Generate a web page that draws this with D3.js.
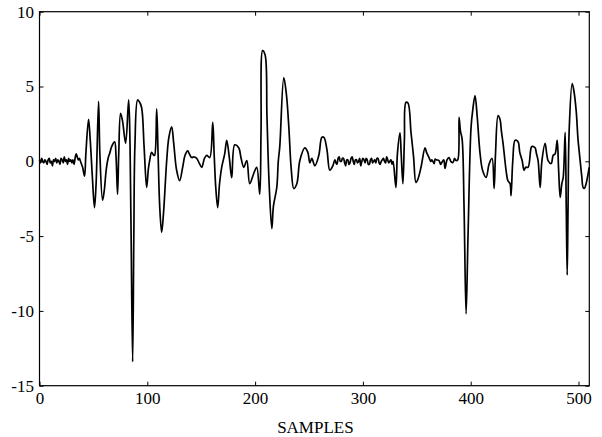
<!DOCTYPE html>
<html>
<head>
<meta charset="utf-8">
<script src="https://cdn.jsdelivr.net/npm/d3@7"></script>
<style>
  body { margin: 0; background: #fff; }
  text { font-family: "Liberation Serif", "DejaVu Serif", serif; }
</style>
</head>
<body>
<div id="chart"></div>
<script>
// sample index and signal value
var samples = [0, 1, 2, 3, 4, 5, 6, 7, 8, 9, 10, 11, 12, 13, 14, 15, 16, 17, 18, 19, 20, 21, 22, 23, 24, 25, 26, 27, 28, 29, 30, 31, 32, 33, 34, 35, 36, 37, 38, 39, 40,
    41.8, 43, 45.5, 47, 49, 51, 52.5, 54.8, 56, 58.5, 60, 62, 64, 65, 67, 69.7, 71, 72.4, 73.5, 75.2, 77, 79.9, 82.7, 84, 85, 86.4, 87.5, 88.5, 91, 92.5, 94.7, 97, 99.4, 101, 102.2, 104, 106, 106.8, 108.7, 110, 111.5, 113.3, 115, 118, 120, 122.6, 124.5, 127.2, 130, 132.8, 135, 137.5, 139, 141.2, 143, 145.8, 148, 150.5, 153, 155.1, 157.9, 160.7, 162, 163.5, 165.3, 167, 169, 171.8, 173.7, 176, 178.3, 181.1, 184.8, 187, 189.5, 192.3, 195, 198.8, 201.5, 204.3, 205.5, 207, 209.3, 211, 213, 215.5, 217, 220.1, 221.5, 222.9, 226.6, 229, 231.3, 233.5, 235.9, 238.7, 241.5, 246.1, 248.9, 250.8, 252.6, 255.4, 259.1, 261.9, 263.8, 266.6, 269.3, 272.1,
    274, 275, 276, 277, 278, 279, 280, 281, 282, 283, 284, 285, 286, 287, 288, 289, 290, 291, 292, 293, 294, 295, 296, 297, 298, 299, 300, 301, 302, 303, 304, 305, 306, 307, 308, 309, 310, 311, 312, 313, 314, 315, 316, 317, 318, 319, 320, 321, 322, 323, 324, 325, 326, 327, 328,
    330.6, 332, 334.4, 335.5, 337.1, 338.5, 339.9, 341.8, 344.6, 347, 349.2, 351, 353.9, 357.6, 359, 361.3, 363, 364, 366, 367, 368, 370.6, 372, 373, 375, 376.2, 378, 379.9, 381.5, 383.6, 385, 386.4, 388, 389.2, 390.5, 392, 393.8, 395.7, 397.5, 400.3, 402, 404, 406, 408.7, 411, 414.3, 417, 419.8, 421.7, 423, 425.4, 427.2, 428.5, 430, 432.8, 434.5, 436.5, 437.4, 439, 441.2, 443.9, 445.5, 447.7, 449.5, 451, 453.2, 456, 457, 459.7, 461, 462.5, 464.4, 466, 469, 470.5, 471.8, 474.6, 476.5, 478.3, 480.2, 481.5, 483, 484.5, 485.8, 487.6, 488.6, 489.5, 490.3, 491.3, 494.1, 495.5, 497.8, 499.5, 501.5, 503, 504.3, 505.5, 507.1, 508.5, 509.9];
var values = [0.1, -0.1, 0.2, 0.0, -0.1, 0.1, 0.0, -0.2, 0.1, 0.2, -0.1, 0.0, -0.3, 0.1, 0.0, 0.2, -0.1, 0.1, 0.0, -0.2, 0.2, 0.1, -0.1, 0.3, 0.0, 0.1, -0.2, 0.2, 0.0, 0.1, -0.1, 0.1, -0.2, 0.2, 0.5, 0.3, 0.1, 0.2, 0.0, -0.2, -0.4,
    -1.0, 0.5, 2.8, 1.5, -1.0, -3.1, -1.5, 4.0, 0.5, -2.6, -2.0, -0.5, 0.3, 0.5, 1.0, 1.3, 0.3, -2.2, 0.5, 3.2, 2.7, 1.2, 4.1, 1.0, -5.0, -13.4, -5.0, 1.0, 4.1, 4.0, 3.6, 1.0, -1.75, -0.5, 0.05, 0.6, 0.4, 0.4, 3.5, 0.5, -3.0, -4.75, -3.5, 0.05, 1.6, 2.3, 1.2, -0.6, -1.3, -0.4, 0.4, 0.7, 0.5, 0.25, 0.3, 0.2, -0.1, -0.4, 0.2, 0.4, 0.25, 2.6, 0.5, -1.75, -3.1, -1.5, -0.4, 0.5, 1.4, 0.3, -1.1, 1.1, 0.9, 0.2, -0.4, 0.05, -1.5, -0.8, -0.4, -2.2, 2.0, 7.4, 7.1, 3.0, -1.5, -4.5, -3.0, -1.75, 0.0, 1.0, 5.6, 4.5, 2.26, -0.5, -1.82, -1.5, 0.05, 0.9, 0.6, -0.1, 0.2, -0.3, 0.4, 1.6, 1.6, 0.8, -0.6, -0.3,
    0.1, -0.1, -0.2, 0.2, 0.3, 0.0, 0.0, 0.2, 0.2, -0.1, -0.3, 0.1, 0.1, -0.2, -0.1, 0.2, 0.3, 0.0, -0.2, 0.1, 0.1, -0.1, 0.0, 0.2, -0.3, 0.0, 0.2, 0.1, -0.1, 0.2, 0.1, -0.2, -0.2, 0.1, 0.2, -0.1, 0.0, 0.1, -0.1, 0.2, 0.2, -0.1, -0.2, 0.0, 0.1, 0.2, 0.0, -0.1, 0.3, 0.1, -0.1, 0.0, 0.1, -0.2, 0.0,
    -1.75, 0.5, 1.9, 0.5, -1.5, 1.5, 3.93, 3.9, 1.93, 0.3, -1.42, -1.2, -0.4, 0.9, 0.6, 0.25, 0.0, 0.1, -0.15, 0.15, 0.1, 0.05, -0.2, -0.1, 0.1, -0.48, 0.1, 0.25, 0.0, -0.08, 0.2, 0.05, 0.1, 2.93, 2.0, 1.5, -3.0, -10.2, -5.0, 2.26, 3.5, 4.4, 3.0, 0.5, -0.6, -1.08, -0.2, 0.19, -1.82, 0.5, 3.06, 2.8, 2.0, 1.2, -0.6, -1.3, -1.5, -2.3, 0.0, 1.4, 1.3, 0.6, 0.05, -0.6, -0.4, -0.4, 0.9, 1.0, 0.9, 0.5, 0.05, -1.75, 0.0, 1.2, 0.5, 0.05, -0.15, 0.4, 0.5, 1.4, -0.5, -2.42, -1.5, -1.08, 1.93, -3.0, -7.6, -3.0, 2.0, 5.2, 4.8, 3.4, 1.5, 0.05, -1.0, -1.75, -1.8, -1.48, -1.0, -0.41];

var xTicks = [0, 100, 200, 300, 400, 500];
var yTicks = [-15, -10, -5, 0, 5, 10];
var yTickLabels = ["-15", "-10", "-5", "0", "5", "10"];
var xLabel = "SAMPLES";

// set the dimensions and margins of the graph
var margin = { top: 11.7, right: 12.7, bottom: 51.3, left: 39.5 },
    width = 602 - margin.left - margin.right,
    height = 437 - margin.top - margin.bottom;

var svg = d3.select("#chart")
    .append("svg")
    .attr("width", 602)
    .attr("height", 437)
    .append("g")
    .attr("transform", "translate(" + margin.left + "," + margin.top + ")");

var x = d3.scaleLinear().domain([0, 510]).range([0, width]);
var y = d3.scaleLinear().domain([-15, 10]).range([height, 0]);

// axes, ticks pointing inward
var xAxis = svg.append("g")
    .attr("transform", "translate(0," + height + ")")
    .call(d3.axisBottom(x).tickValues(xTicks).tickSizeInner(-4).tickSizeOuter(0).tickPadding(6.5));
var yAxis = svg.append("g")
    .call(d3.axisLeft(y).tickValues(yTicks).tickSizeInner(-4).tickSizeOuter(0).tickPadding(5.5)
        .tickFormat(function (d, i) { return yTickLabels[i]; }));
var xTop = svg.append("g")
    .call(d3.axisTop(x).tickValues(xTicks).tickSizeInner(-4).tickSizeOuter(0).tickFormat(""));
var yRight = svg.append("g")
    .attr("transform", "translate(" + width + ",0)")
    .call(d3.axisRight(y).tickValues(yTicks).tickSizeInner(-4).tickSizeOuter(0).tickFormat(""));

[xAxis, yAxis, xTop, yRight].forEach(function (g) {
    g.select(".domain").remove();
    g.selectAll("line").attr("stroke", "#000").attr("stroke-width", 1);
    g.selectAll("text")
        .attr("fill", "#000")
        .style("font-family", "'Liberation Serif', serif")
        .style("font-size", "17px");
});

// frame
svg.append("rect")
    .attr("x", 0)
    .attr("y", 0)
    .attr("width", width)
    .attr("height", height)
    .attr("fill", "none")
    .attr("stroke", "#000")
    .attr("stroke-width", 1.2);

// the signal, smoothed a little like the original trace
var line = d3.line()
    .x(function (d, i) { return x(samples[i]); })
    .y(function (d) { return y(d); })
    .curve(d3.curveCatmullRom.alpha(0.5));

svg.append("path")
    .datum(values)
    .attr("fill", "none")
    .attr("stroke", "#000")
    .attr("stroke-width", 1.7)
    .attr("stroke-linejoin", "round")
    .attr("d", line);

// x label
svg.append("text")
    .attr("text-anchor", "middle")
    .attr("x", width / 2 + 1)
    .attr("y", height + 47.5)
    .style("font-size", "17px")
    .text(xLabel);
</script>
</body>
</html>
